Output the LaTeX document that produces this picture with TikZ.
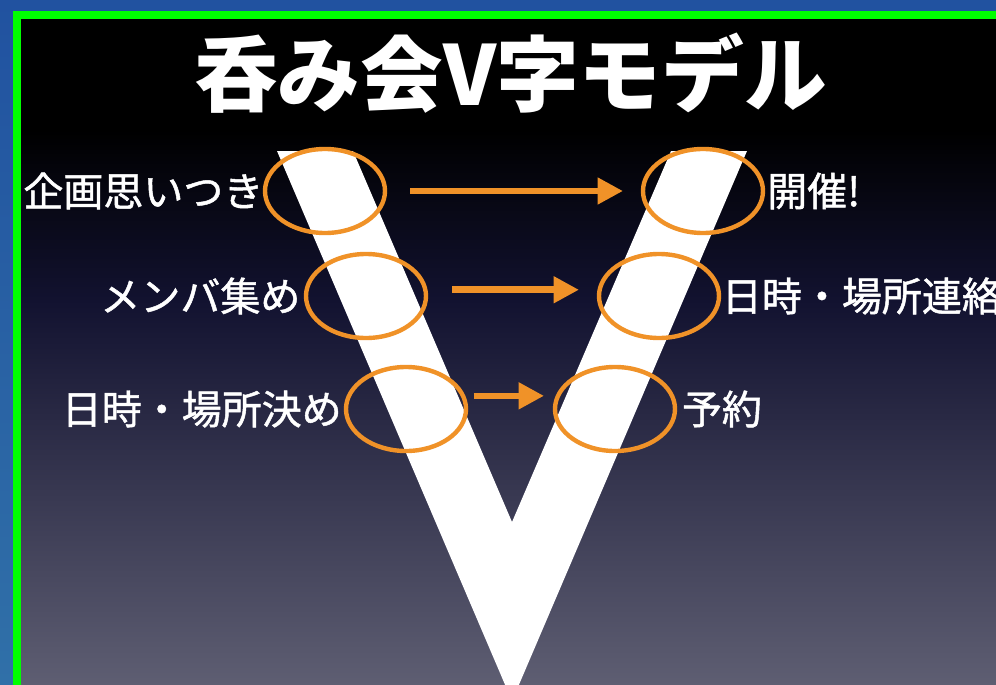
\documentclass[tikz,border=0pt]{standalone}
\usepackage{fontspec}
\usetikzlibrary{positioning,shapes.geometric,arrows.meta}
\newfontfamily\jpfont{Noto Sans CJK JP}
\newfontfamily\jplblfont{Noto Sans CJK JP}[FakeBold=1.2]

\definecolor{frametop}{RGB}{33,82,160}
\definecolor{framebot}{RGB}{48,112,168}
\definecolor{framegreen}{RGB}{0,255,0}
\definecolor{slidemid}{RGB}{18,18,48}
\definecolor{slidebot}{RGB}{95,95,115}
\definecolor{vorange}{RGB}{240,146,40}

\tikzset{
  ring/.style={ellipse, draw=vorange, line width=3.3pt, minimum width=90pt, minimum height=63pt, inner sep=0pt, outer sep=0pt},
  lbl/.style={text=white, inner sep=0pt, font=\jplblfont\fontsize{30}{36}\selectfont},
  flow/.style={draw=vorange, line width=5pt, -{Triangle[length=19pt,width=19pt]}},
}

\begin{document}
\begin{tikzpicture}[x=0.75pt,y=0.75pt,yscale=-1,xscale=1]
\useasboundingbox (0,0) rectangle (996,685);

%Shape: Rectangle [outer frame]
\fill [top color=frametop, bottom color=framebot] (0,0) rectangle (996,685);
%Shape: Rectangle [slide background]
\fill [black] (21,19) rectangle (1000,131);
\fill [top color=black, bottom color=slidemid] (21,130) rectangle (1000,301);
\fill [top color=slidemid, bottom color=slidebot] (21,300) rectangle (1000,690);
%Shape: Rectangle [green border]
\draw [framegreen, line width=6pt] (17,15) rectangle (1010,700);

%Shape: Polygon [V letter]
\fill [white] (277,151) -- (353,151) -- (512,522) -- (671,151) -- (747,151) -- (512,701) -- cycle;

% Text Node
\node [text=white, inner sep=0pt, font=\jpfont\bfseries\fontsize{62}{70}\selectfont] (title) at (511,73) {呑み会V字モデル};

%Shape: Ellipse
\node [ring] (idea) at (325,191) {};
\node [ring] (held) at (703,191) {};
\node [ring] (member) at (366,296) {};
\node [ring] (notify) at (659,296) {};
\node [ring] (decide) at (406,409) {};
\node [ring] (reserve) at (615,409) {};

%Straight Lines
\draw [flow, shorten <=18.75pt, shorten >=15pt] (idea.east) -- (held.west);
\draw [flow, shorten <=20pt, shorten >=15.5pt] (member.6) -- (notify.174);
\draw [flow, shorten <=8pt, shorten >=10.5pt] (decide.13) -- (reserve.167);

% Text Node
\node [lbl, left=1pt of idea] (ideatxt) {企画思いつき};
\node [lbl, left=4pt of member] (membertxt) {メンバ集め};
\node [lbl, left=3pt of decide] (decidetxt) {日時・場所決め};
\node [lbl, right=3pt of held] (heldtxt) {開催!};
\node [lbl, right=2pt of notify] (notifytxt) {日時・場所連絡};
\node [lbl, right=5pt of reserve] (reservetxt) {予約};

\end{tikzpicture}
\end{document}
